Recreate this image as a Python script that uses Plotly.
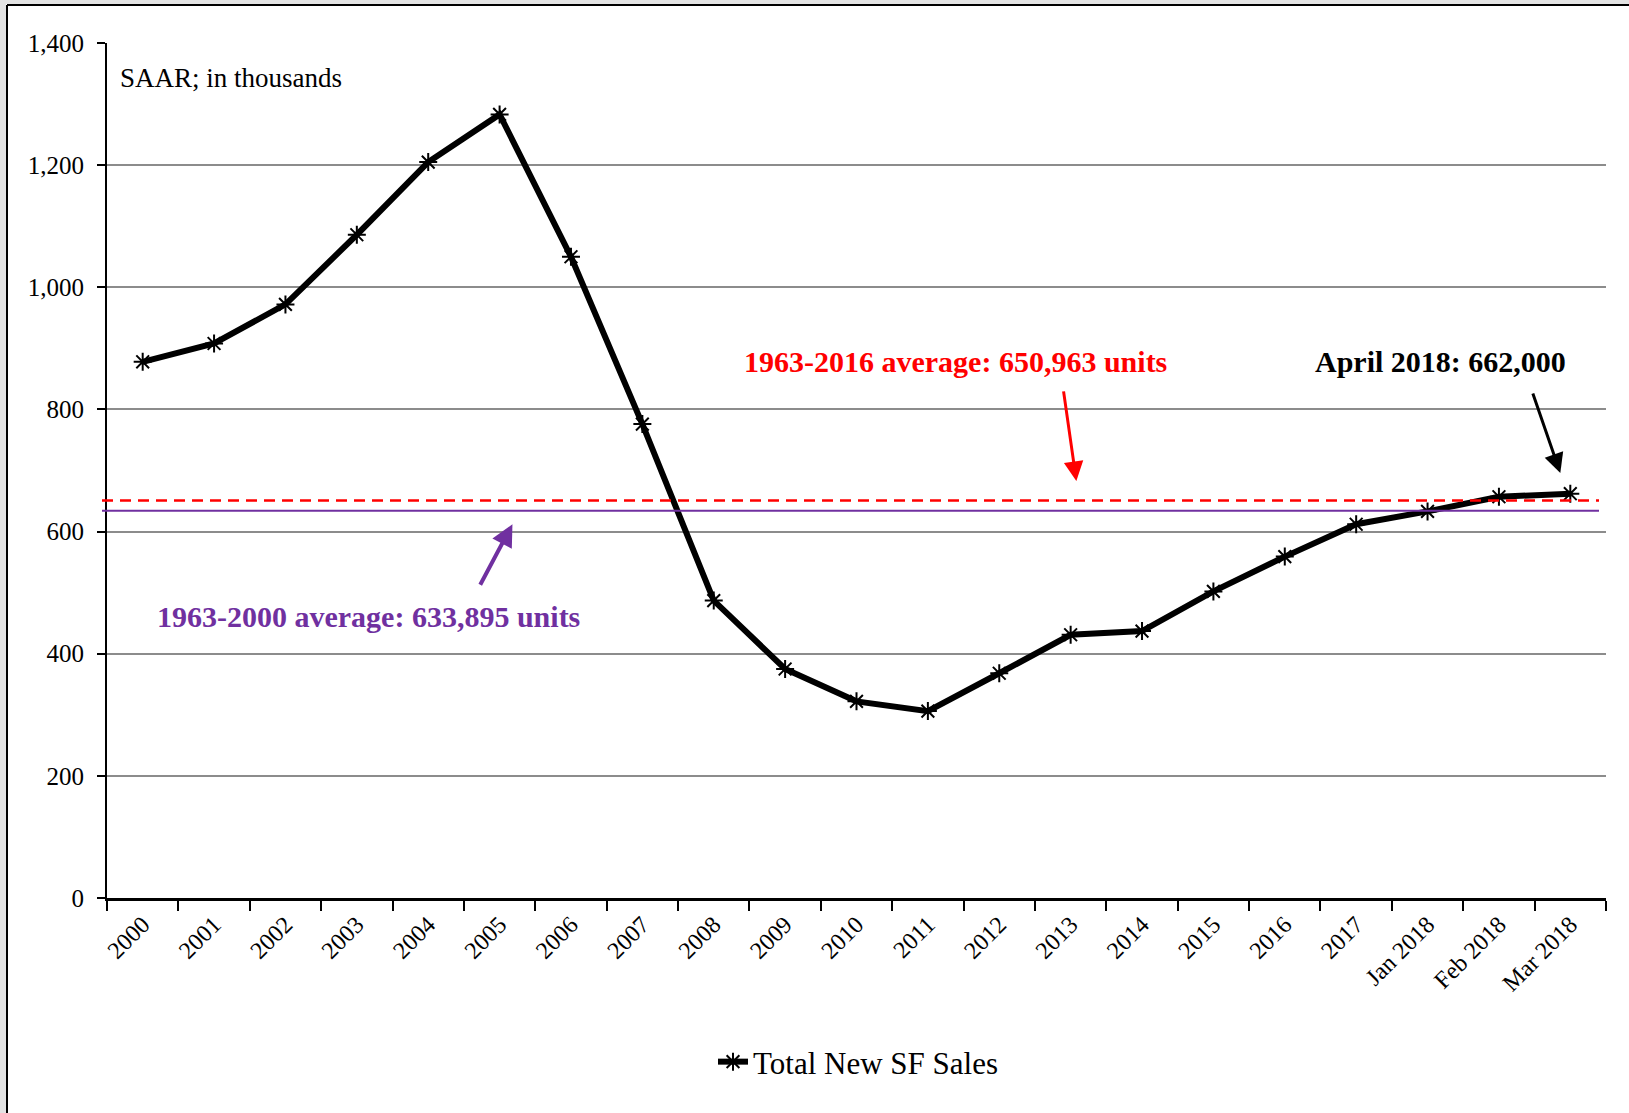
import plotly.graph_objects as go

# New single-family home sales, seasonally adjusted annual rate (thousands)
periods = ["2000", "2001", "2002", "2003", "2004", "2005", "2006", "2007", "2008",
           "2009", "2010", "2011", "2012", "2013", "2014", "2015", "2016", "2017",
           "Jan 2018", "Feb 2018", "Mar 2018"]
sales = [878, 908, 972, 1086, 1205, 1283, 1050, 776, 487, 375, 322, 306, 368,
         431, 437, 502, 559, 612, 633, 657, 662]

avg_1963_2016 = 650.963
avg_1963_2000 = 633.895

y_ticks = [0, 200, 400, 600, 800, 1000, 1200, 1400]

SERIF = "Liberation Serif, Times New Roman, serif"
RED = "#ff0000"
PURPLE = "#7030a0"

# page geometry (pixels)
FIG_W, FIG_H = 1629, 1113
M_L, M_R, M_T, M_B = 107, 23, 43, 215
PLOT_W = FIG_W - M_L - M_R
PLOT_H = FIG_H - M_T - M_B
PLOT_BOTTOM = FIG_H - M_B


def paper_x(px):
    return (px - M_L) / PLOT_W


def paper_y(py):
    return (PLOT_BOTTOM - py) / PLOT_H


fig = go.Figure()

fig.add_trace(go.Scatter(
    x=periods, y=sales, mode="lines+markers", name="Total New SF Sales",
    line=dict(color="black", width=6),
    marker=dict(symbol="asterisk-open", size=15, color="black",
                line=dict(color="black", width=2)),
))

shapes = [
    # long-run average reference lines
    dict(type="line", xref="paper", yref="y", x0=paper_x(102), x1=paper_x(1599),
         y0=avg_1963_2016, y1=avg_1963_2016,
         line=dict(color=RED, width=2.5, dash="11px,7px"), layer="above"),
    dict(type="line", xref="paper", yref="y", x0=paper_x(102), x1=paper_x(1599),
         y0=avg_1963_2000, y1=avg_1963_2000,
         line=dict(color=PURPLE, width=2), layer="above"),
    # outer frame: grey margin strips and black border
    dict(type="rect", xref="paper", yref="paper", x0=paper_x(0), x1=paper_x(6),
         y0=paper_y(FIG_H), y1=paper_y(0), fillcolor="#e3e3e3", line=dict(width=0)),
    dict(type="rect", xref="paper", yref="paper", x0=paper_x(0), x1=paper_x(FIG_W),
         y0=paper_y(4), y1=paper_y(0), fillcolor="#e3e3e3", line=dict(width=0)),
    dict(type="line", xref="paper", yref="paper", x0=paper_x(7), x1=paper_x(7),
         y0=paper_y(FIG_H), y1=paper_y(5), line=dict(color="black", width=2)),
    dict(type="line", xref="paper", yref="paper", x0=paper_x(7), x1=paper_x(FIG_W),
         y0=paper_y(5), y1=paper_y(5), line=dict(color="black", width=2)),
]

annotations = [
    dict(text="SAAR; in thousands", xref="paper", yref="paper",
         x=paper_x(118), y=paper_y(78), xanchor="left", yanchor="middle",
         showarrow=False, font=dict(family=SERIF, size=27, color="black")),
    dict(text="<b>1963-2016 average: 650,963 units</b>", xref="x", yref="y",
         x=11.39, y=879, xanchor="center", yanchor="middle", showarrow=False,
         font=dict(family=SERIF, size=30, color=RED)),
    dict(text="<b>April 2018: 662,000</b>", xref="x", yref="y",
         x=18.18, y=879, xanchor="center", yanchor="middle", showarrow=False,
         font=dict(family=SERIF, size=30, color="black")),
    dict(text="<b>1963-2000 average: 633,895 units</b>", xref="x", yref="y",
         x=3.17, y=461, xanchor="center", yanchor="middle", showarrow=False,
         font=dict(family=SERIF, size=30, color=PURPLE)),
    # arrows
    dict(text="", xref="x", yref="y", x=13.08, y=683, ax=-13, ay=-91,
         showarrow=True, arrowhead=2, arrowsize=1.3, arrowwidth=3, arrowcolor=RED),
    dict(text="", xref="x", yref="y", x=19.86, y=696, ax=-28, ay=-81,
         showarrow=True, arrowhead=2, arrowsize=1.3, arrowwidth=3, arrowcolor="black"),
    dict(text="", xref="x", yref="y", x=5.18, y=612, ax=-33, ay=62,
         showarrow=True, arrowhead=2, arrowsize=1.1, arrowwidth=4, arrowcolor=PURPLE),
]

fig.update_layout(
    width=FIG_W, height=FIG_H,
    margin=dict(l=M_L, r=M_R, t=M_T, b=M_B),
    paper_bgcolor="white", plot_bgcolor="white",
    font=dict(family=SERIF, color="black"),
    shapes=shapes, annotations=annotations,
    showlegend=True,
    legend=dict(orientation="h", x=paper_x(858), y=paper_y(1062),
                xanchor="center", yanchor="middle", bgcolor="rgba(0,0,0,0)",
                font=dict(family=SERIF, size=31, color="black")),
)

fig.update_xaxes(
    type="category", tickson="boundaries", ticks="outside", ticklen=10,
    tickwidth=2, tickcolor="black", showline=True, linecolor="black", linewidth=3,
    showgrid=False, tickangle=-45, tickfont=dict(family=SERIF, size=24, color="black"),
    range=[-0.5, len(periods) - 0.5],
)

fig.update_yaxes(
    range=[0, 1400], tickvals=y_ticks, tickformat=",", ticks="outside", ticklen=8,
    tickwidth=2, tickcolor="black", showline=True, linecolor="black", linewidth=2,
    showgrid=True, gridcolor="#8c8c8c", gridwidth=2, zeroline=False,
    ticklabelstandoff=8, tickfont=dict(family=SERIF, size=25, color="black"),
)

fig.write_html("out.html")
